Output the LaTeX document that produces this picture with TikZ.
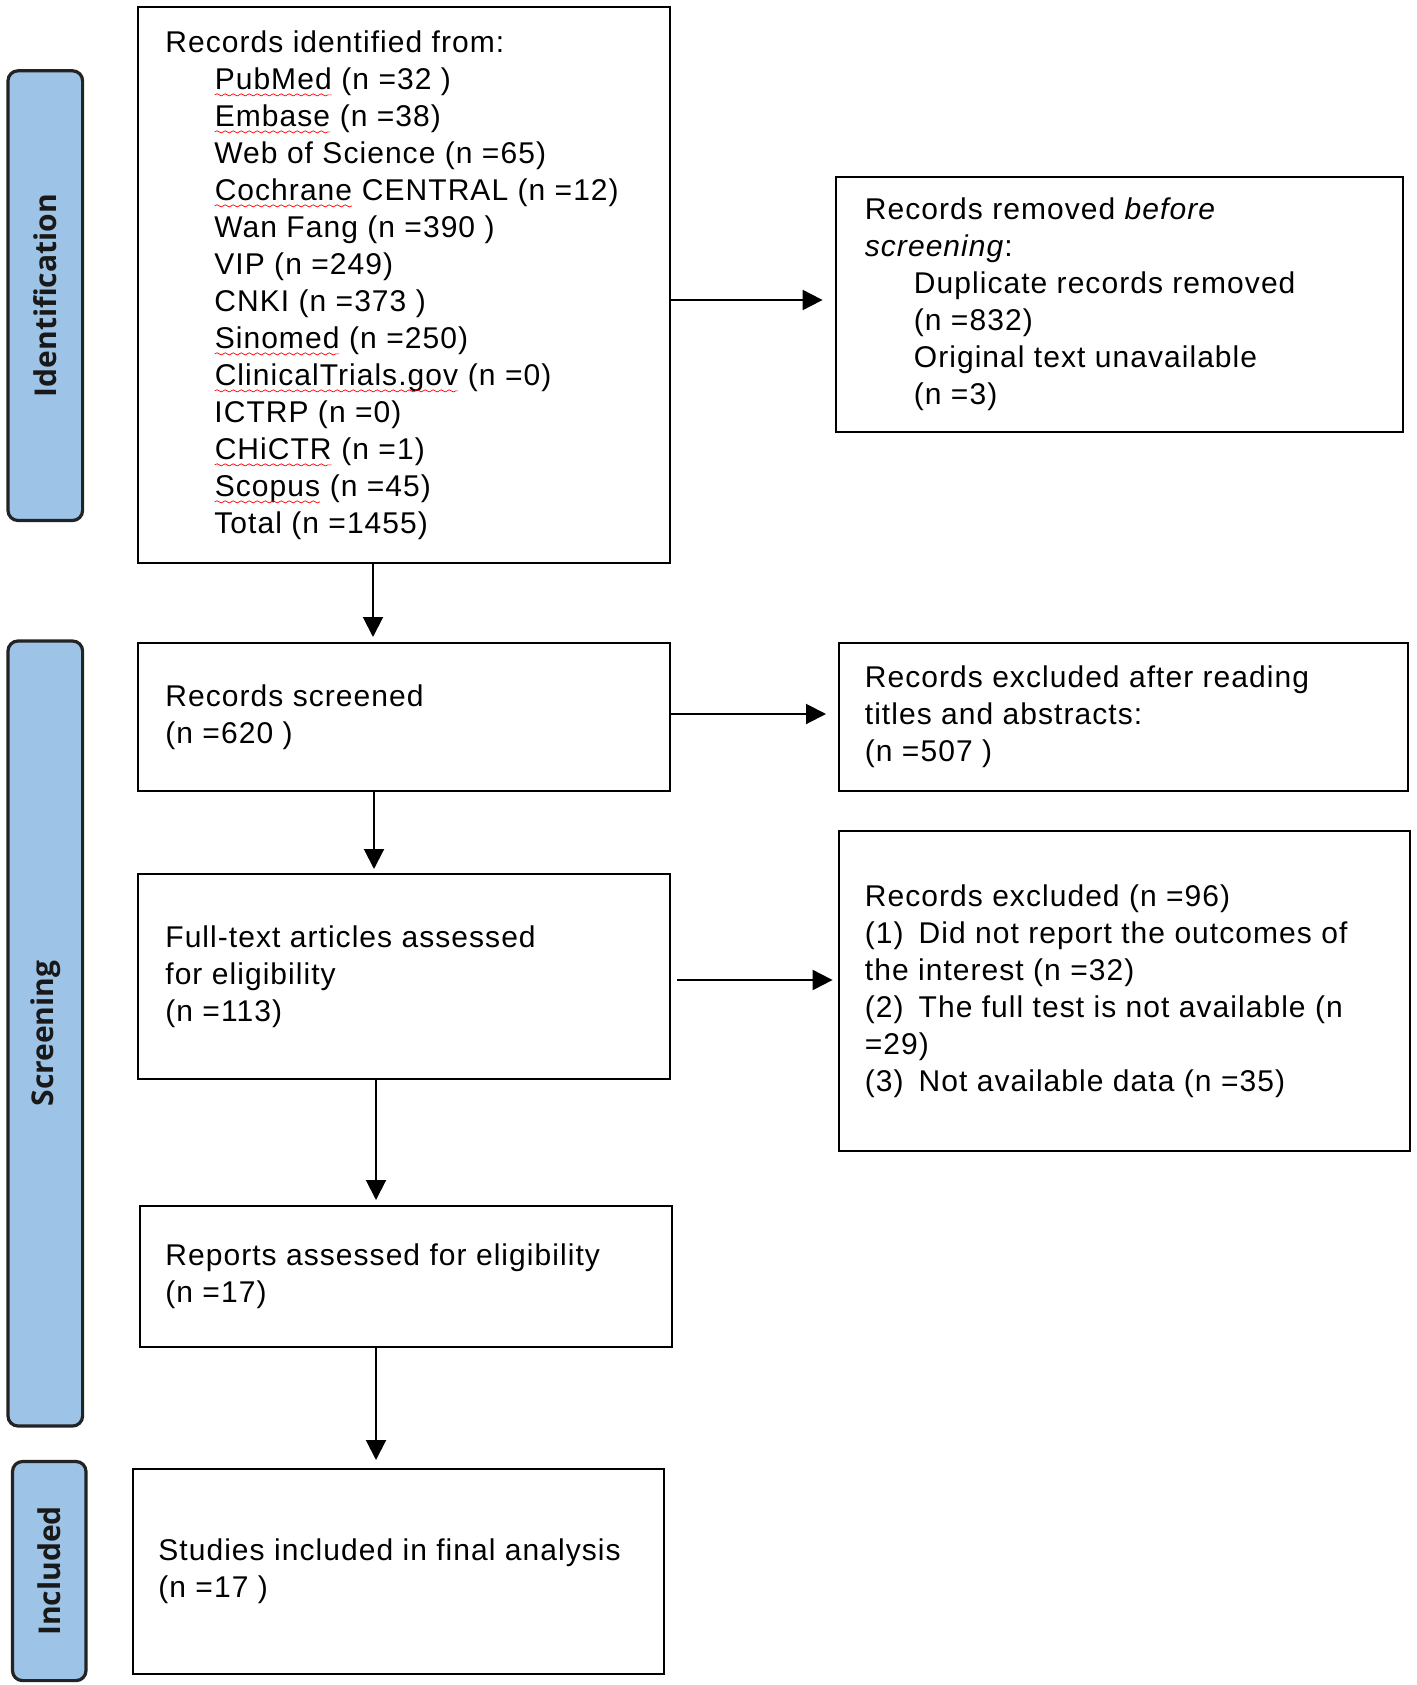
\documentclass[tikz,border=0pt]{standalone}
\usepackage{fontspec}
\setmainfont{Liberation Sans}[LetterSpace=3.5]
\newfontfamily\pillfont{Open Sans}
\usetikzlibrary{arrows.meta,fit,calc,decorations.pathmorphing}
\definecolor{pillblue}{RGB}{157,195,230}
\definecolor{pillborder}{RGB}{35,35,35}
\newcommand\sq[1]{\tikz[baseline=(sqw.base)]{\node[inner sep=0pt,outer sep=0pt,anchor=base](sqw){#1};\draw[red,line width=0.35pt,decorate,decoration={snake,amplitude=0.55pt,segment length=4pt}]([yshift=-2.8pt]sqw.base west)--([yshift=-2.8pt]sqw.base east);}}
\newcommand\ind{\hspace*{24.5pt}}
\begin{document}
\begin{tikzpicture}[x=0.5pt,y=-0.5pt,
 box/.style={draw=black,line width=1pt,inner sep=0pt},
 pill/.style={draw=pillborder,fill=pillblue,line width=1.6pt,rounded corners=5pt,inner sep=0pt},
 pilltxt/.style={rotate=90,font=\pillfont\bfseries\fontsize{15}{18}\selectfont,text=black!90,inner sep=0pt},
 txt/.style={anchor=west,align=left,inner sep=0pt,font=\fontsize{15}{18.5}\selectfont},
 arr/.style={line width=1pt,-{Triangle[length=10pt,width=10pt]}}]
\useasboundingbox (0,0) rectangle (1417,1685);

% stage pills
\node[pill,fit={(8,70.8) (82.6,520.5)}] (pid) {};
\node[pill,fit={(8,641) (82.6,1426)}] (pscr) {};
\node[pill,fit={(12.5,1461.5) (86,1680.6)}] (pinc) {};
\node[pilltxt] (lid) at (pid.center) {Identification};
\node[pilltxt] (lscr) at (pscr.center) {Screening};
\node[pilltxt] (linc) at (pinc.center) {Included};

% boxes
\node[box,fit={(137.5,7) (669.5,563)}] (main) {};
\node[box,fit={(836,177) (1403,432)}] (removed) {};
\node[box,fit={(137.5,643) (670,791)}] (screened) {};
\node[box,fit={(839,643) (1407.5,791)}] (excl1) {};
\node[box,fit={(137.5,874) (670,1079)}] (fulltext) {};
\node[box,fit={(839,831) (1410,1151)}] (excl2) {};
\node[box,fit={(139.7,1205.6) (672,1347)}] (reports) {};
\node[box,fit={(132.6,1469) (664,1674)}] (included) {};

% texts
\node[txt] (tmain) at ($(main.west)+(28.5,0)$) {Records identified from:\\
\ind\sq{PubMed} (n =32 )\\
\ind\sq{Embase} (n =38)\\
\ind Web of Science (n =65)\\
\ind\sq{Cochrane} CENTRAL (n =12)\\
\ind Wan Fang (n =390 )\\
\ind VIP (n =249)\\
\ind CNKI (n =373 )\\
\ind\sq{Sinomed} (n =250)\\
\ind\sq{ClinicalTrials.gov} (n =0)\\
\ind ICTRP (n =0)\\
\ind\sq{CHiCTR} (n =1)\\
\ind\sq{Scopus} (n =45)\\
\ind Total (n =1455)};
\node[txt] (tremoved) at ($(removed.west)+(29.5,0)$) {Records removed \textit{before}\\
\textit{screening}:\\
\ind Duplicate records removed\\
\ind (n =832)\\
\ind Original text unavailable\\
\ind (n =3)};
\node[txt] (tscreened) at ($(screened.west)+(28.5,0)$) {Records screened\\(n =620 )};
\node[txt] (texcl1) at ($(excl1.west)+(26.5,0)$) {Records excluded after reading\\titles and abstracts:\\(n =507 )};
\node[txt] (tfulltext) at ($(fulltext.west)+(28.5,0)$) {Full-text articles assessed\\for eligibility\\(n =113)};
\node[txt] (texcl2) at ($(excl2.west)+(26.5,0)$) {Records excluded (n =96)\\
(1)\enspace Did not report the outcomes of\\
the interest (n =32)\\
(2)\enspace The full test is not available (n\\
=29)\\
(3)\enspace Not available data (n =35)};
\node[txt] (treports) at ($(reports.west)+(26.3,0)$) {Reports assessed for eligibility\\(n =17)};
\node[txt] (tincluded) at ($(included.west)+(26.4,0)$) {Studies included in final analysis\\(n =17 )};

% connectors
\coordinate (c1) at (373,0);
\coordinate (c2) at (374,0);
\coordinate (c3) at (376,0);
\coordinate (r1) at (0,300);
\coordinate (r2) at (0,714);
\coordinate (r3) at (0,980);
\draw[arr,shorten >=2.5pt] (main.south -| c1) -- (screened.north -| c1);
\draw[arr,shorten >=2pt] (screened.south -| c2) -- (fulltext.north -| c2);
\draw[arr,shorten >=2.3pt] (fulltext.south -| c3) -- (reports.north -| c3);
\draw[arr,shorten >=4pt] (reports.south -| c3) -- (included.north -| c3);
\draw[arr,shorten >=6.2pt] (main.east |- r1) -- (removed.west |- r1);
\draw[arr,shorten >=6pt] (screened.east |- r2) -- (excl1.west |- r2);
\draw[arr,shorten <=3pt,shorten >=2.7pt] (fulltext.east |- r3) -- (excl2.west |- r3);
\end{tikzpicture}
\end{document}
